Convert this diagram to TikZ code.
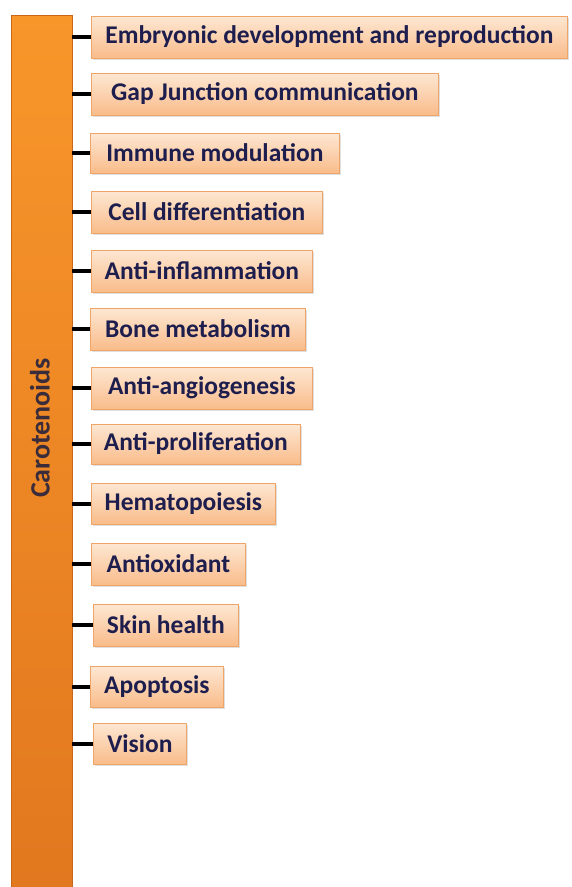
\documentclass[tikz,border=0pt]{standalone}
\usepackage{fontspec}
\setmainfont{Carlito}
\usetikzlibrary{shadows}
\definecolor{navy}{HTML}{1E1E4E}
\definecolor{boxtop}{HTML}{FDE7D3}
\definecolor{boxbot}{HTML}{F9BC8A}
\definecolor{boxline}{HTML}{EFA468}
\definecolor{bartop}{HTML}{F8962A}
\definecolor{barbot}{HTML}{E2781F}
\definecolor{barline}{HTML}{C9661A}
\definecolor{labcol}{HTML}{3A2C3A}
\tikzset{
  itembox/.style={draw=boxline, line width=0.8pt, top color=boxtop, bottom color=boxbot,
    anchor=west, minimum height=42pt, inner sep=0pt,
    font=\fontsize{25.5}{27}\selectfont\bfseries, text=navy,
    drop shadow={opacity=0.25, shadow xshift=1.5pt, shadow yshift=-1.5pt}},
  stembar/.style={draw=barline, line width=0.6pt, top color=bartop, bottom color=barbot,
    minimum width=61pt, minimum height=872pt, inner sep=0pt},
  conn/.style={line width=4pt, black}
}
\begin{document}
\begin{tikzpicture}[x=1pt,y=1pt]
\useasboundingbox (0,0) rectangle (571,-887);
\fill[white] (0,0) rectangle (571,-887);
\node[stembar] (bar) at (41.5,-451) {};
\node[rotate=90, font=\fontsize{28}{30}\selectfont\bfseries, text=labcol] (lab) at (40,-428) {Carotenoids};
\node[itembox, minimum width=476pt] (b1) at (91,-37) {Embryonic development and reproduction};
\node[itembox, minimum width=347pt] (b2) at (91,-94) {Gap Junction communication};
\node[itembox, minimum width=249pt, minimum height=40pt] (b3) at (90,-153) {Immune modulation};
\node[itembox, minimum width=231pt] (b4) at (91,-212) {Cell differentiation};
\node[itembox, minimum width=221pt] (b5) at (91,-271) {Anti-inflammation};
\node[itembox, minimum width=215pt] (b6) at (90,-329) {Bone metabolism};
\node[itembox, minimum width=221pt] (b7) at (91,-388) {Anti-angiogenesis};
\node[itembox, minimum width=209pt, minimum height=40pt] (b8) at (91,-444) {Anti-proliferation};
\node[itembox, minimum width=184pt, minimum height=41pt] (b9) at (91,-503.5) {Hematopoiesis};
\node[itembox, minimum width=154pt] (b10) at (91,-564) {Antioxidant};
\node[itembox, minimum width=145pt] (b11) at (93,-625) {Skin health};
\node[itembox, minimum width=133pt, minimum height=41pt] (b12) at (90,-686.5) {Apoptosis};
\node[itembox, minimum width=93pt, minimum height=41pt] (b13) at (93,-743.5) {Vision};
\foreach \i in {1,...,13}{
  \draw[conn] (bar.east |- b\i.west) -- (b\i.west);
}
\end{tikzpicture}
\end{document}
